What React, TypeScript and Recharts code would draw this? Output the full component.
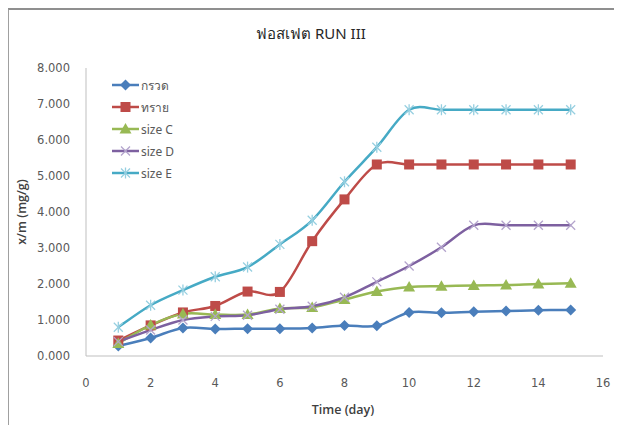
import React from "react";
import { LineChart, Line, XAxis, YAxis } from "recharts";

const DAYS = [1, 2, 3, 4, 5, 6, 7, 8, 9, 10, 11, 12, 13, 14, 15];
const GRAVEL = [0.28, 0.5, 0.78, 0.75, 0.76, 0.76, 0.78, 0.85, 0.84, 1.21, 1.2, 1.23, 1.25, 1.27, 1.28];
const SAND = [0.43, 0.85, 1.21, 1.39, 1.79, 1.78, 3.19, 4.35, 5.32, 5.32, 5.32, 5.32, 5.32, 5.32, 5.32];
const SIZE_C = [0.35, 0.86, 1.17, 1.15, 1.15, 1.32, 1.35, 1.57, 1.79, 1.92, 1.94, 1.96, 1.97, 2.0, 2.02];
const SIZE_D = [0.4, 0.72, 1.0, 1.1, 1.13, 1.3, 1.38, 1.63, 2.06, 2.5, 3.02, 3.63, 3.63, 3.63, 3.63];
const SIZE_E = [0.8, 1.41, 1.83, 2.2, 2.47, 3.1, 3.77, 4.84, 5.8, 6.84, 6.84, 6.84, 6.84, 6.84, 6.84];

const X_TICKS = [0, 2, 4, 6, 8, 10, 12, 14, 16];
const Y_TICKS = [0, 1, 2, 3, 4, 5, 6, 7, 8];

const data = DAYS.map((d, i) => ({
  day: d,
  gravel: GRAVEL[i],
  sand: SAND[i],
  c: SIZE_C[i],
  d: SIZE_D[i],
  e: SIZE_E[i],
}));

// Excel-style smoothed line: cubic bezier through every point (Catmull-Rom, 1/6 handles)
const smoothCurve = (context: any) => {
  let pts: number[][] = [];
  return {
    areaStart() {},
    areaEnd() {},
    lineStart() {
      pts = [];
    },
    point(x: number, y: number) {
      pts.push([+x, +y]);
    },
    lineEnd() {
      if (!pts.length) return;
      context.moveTo(pts[0][0], pts[0][1]);
      for (let i = 0; i < pts.length - 1; i++) {
        const p0 = pts[i - 1] || pts[i];
        const p1 = pts[i];
        const p2 = pts[i + 1];
        const p3 = pts[i + 2] || p2;
        context.bezierCurveTo(
          p1[0] + (p2[0] - p0[0]) / 6,
          p1[1] + (p2[1] - p0[1]) / 6,
          p2[0] - (p3[0] - p1[0]) / 6,
          p2[1] - (p3[1] - p1[1]) / 6,
          p2[0],
          p2[1]
        );
      }
    },
  };
};

type MarkerKind = "diamond" | "square" | "triangle" | "cross" | "star";

function Marker({ kind, cx, cy, color }: { kind: MarkerKind; cx: number; cy: number; color: string }) {
  if (kind === "diamond")
    return <polygon points={`${cx},${cy - 5.5} ${cx + 5.5},${cy} ${cx},${cy + 5.5} ${cx - 5.5},${cy}`} fill={color} />;
  if (kind === "square") return <rect x={cx - 5} y={cy - 5} width={10} height={10} fill={color} />;
  if (kind === "triangle")
    return <polygon points={`${cx},${cy - 6} ${cx + 6},${cy + 4.5} ${cx - 6},${cy + 4.5}`} fill={color} />;
  const r = 4.5;
  return (
    <g stroke={color} strokeWidth={1.3}>
      <line x1={cx - r} y1={cy - r} x2={cx + r} y2={cy + r} />
      <line x1={cx - r} y1={cy + r} x2={cx + r} y2={cy - r} />
      {kind === "star" && <line x1={cx} y1={cy - r - 1} x2={cx} y2={cy + r + 1} />}
    </g>
  );
}

const SERIES: { key: string; name: string; color: string; markColor: string; kind: MarkerKind }[] = [
  { key: "gravel", name: "กรวด", color: "#4A7EBB", markColor: "#4A7EBB", kind: "diamond" },
  { key: "sand", name: "ทราย", color: "#BE4B48", markColor: "#BE4B48", kind: "square" },
  { key: "c", name: "size C", color: "#98B954", markColor: "#98B954", kind: "triangle" },
  { key: "d", name: "size D", color: "#7D60A0", markColor: "#B3A3CC", kind: "cross" },
  { key: "e", name: "size E", color: "#46AAC5", markColor: "#96CFE0", kind: "star" },
];

const tickStyle = { fontSize: 11.5, fill: "#595959", fontFamily: "DejaVu Sans" };

// series key drawn as a plain block in the upper-left of the plot
function LegendBox() {
  return (
    <div
      style={{
        position: "absolute",
        left: 104,
        top: 66,
        fontFamily: "'Noto Sans', 'DejaVu Sans', sans-serif",
        fontSize: 12,
        color: "#595959",
      }}
    >
      {SERIES.map((s) => (
        <div key={s.key} style={{ display: "flex", alignItems: "center", height: 22 }}>
          <svg width={28} height={14}>
            <line x1={0} y1={7} x2={27} y2={7} stroke={s.color} strokeWidth={2.5} />
            <Marker kind={s.kind} cx={13.5} cy={7} color={s.markColor} />
          </svg>
          <span style={{ marginLeft: 1 }}>{s.name}</span>
        </div>
      ))}
    </div>
  );
}

export default function App() {
  return (
    <div style={{ position: "relative", width: 614, height: 417 }}>
      <div
        style={{
          position: "absolute",
          left: -1,
          top: 0,
          width: 615,
          height: 417,
          borderTop: "2px solid #8f8f8f",
          borderLeft: "2px solid #a0a0a0",
          boxSizing: "border-box",
          pointerEvents: "none",
        }}
      />
      <div
        style={{
          position: "absolute",
          top: 14,
          width: 606,
          textAlign: "center",
          fontFamily: "'Noto Sans', 'DejaVu Sans', sans-serif",
          fontSize: 15,
          color: "#262626",
        }}
      >
        ฟอสเฟต RUN III
      </div>
      <div
        style={{
          position: "absolute",
          left: 335 - 60,
          top: 393,
          width: 120,
          textAlign: "center",
          fontFamily: "'Open Sans', 'DejaVu Sans', sans-serif",
          fontWeight: 600,
          fontSize: 12.5,
          color: "#404040",
        }}
      >
        Time (day)
      </div>
      <div
        style={{
          position: "absolute",
          left: 14 - 60,
          top: 204 - 10,
          width: 120,
          height: 20,
          lineHeight: "20px",
          textAlign: "center",
          transform: "rotate(-90deg)",
          fontFamily: "'Open Sans', 'DejaVu Sans', sans-serif",
          fontWeight: 600,
          fontSize: 12.5,
          color: "#404040",
        }}
      >
        x/m (mg/g)
      </div>
      <LineChart width={614} height={417} data={data} margin={{ top: 60, right: 19, bottom: 0, left: 0 }}>
        <XAxis
          dataKey="day"
          type="number"
          domain={[0, 16]}
          ticks={X_TICKS}
          tick={tickStyle}
          tickLine={false}
          tickSize={0}
          tickMargin={23}
          stroke="#bfbfbf"
          height={69}
        />
        <YAxis
          type="number"
          domain={[0, 8]}
          ticks={Y_TICKS}
          tick={tickStyle}
          tickFormatter={(v: number) => v.toFixed(3)}
          tickLine={false}
          tickSize={0}
          tickMargin={16}
          stroke="#bfbfbf"
          width={78}
        />
        {SERIES.map((s) => (
          <Line
            key={s.key}
            dataKey={s.key}
            name={s.name}
            type={smoothCurve as any}
            stroke={s.color}
            strokeWidth={2.5}
            isAnimationActive={false}
            dot={(p: any) => <Marker key={`${s.key}-${p.index}`} kind={s.kind} cx={p.cx} cy={p.cy} color={s.markColor} />}
            activeDot={false}
          />
        ))}
      </LineChart>
      <LegendBox />
    </div>
  );
}
